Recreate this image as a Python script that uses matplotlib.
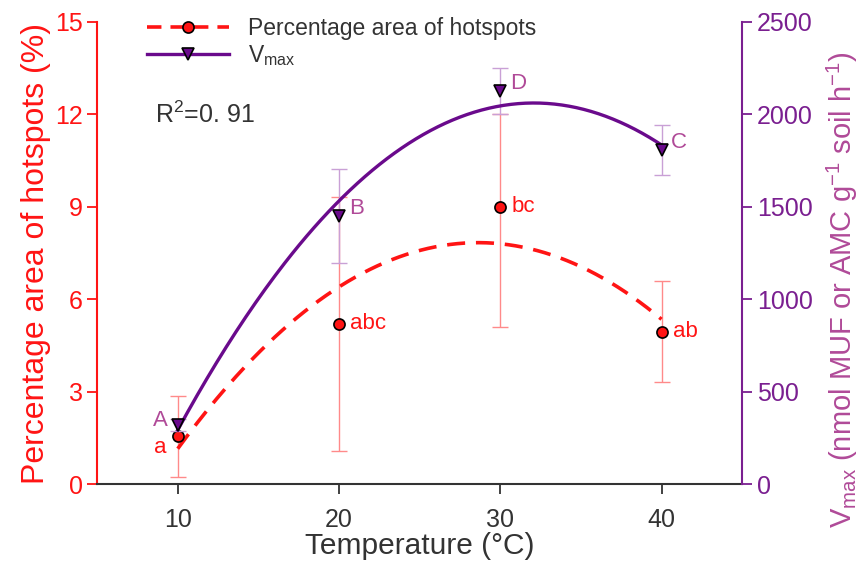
import numpy as np
import matplotlib.pyplot as plt
from matplotlib.lines import Line2D

plt.rcParams['font.family'] = ['Liberation Sans', 'DejaVu Sans']
plt.rcParams['mathtext.fontset'] = 'custom'
plt.rcParams['mathtext.rm'] = 'Liberation Sans'

# data
temps = [10, 20, 30, 40]
hot_mean = [1.55, 5.2, 9.0, 4.95]
hot_err_lo = [1.32, 4.13, 3.9, 1.64]
hot_err_hi = [1.32, 4.13, 3.0, 1.64]
hot_letters = ['a', 'abc', 'bc', 'ab']
vmax_mean = [320, 1450, 2127, 1807]
vmax_err = [32, 252, 125, 137]
vmax_letters = ['A', 'B', 'D', 'C']

red = '#ff1414'
purple = '#6a0a8c'
purple_tick = '#7a1f90'
purple_lab = '#b04a98'
grey = '#333333'

fig = plt.figure(figsize=(8.67, 5.75), dpi=100)
ax = fig.add_axes([0.112, 0.158, 0.744, 0.804])
ax2 = ax.twinx()

# quadratic fits of the means
xs = np.linspace(10, 40, 200)
p_hot = np.polyfit(temps, hot_mean, 2)
p_vmax = np.polyfit(temps, vmax_mean, 2)

ax.errorbar(temps, hot_mean, yerr=[hot_err_lo, hot_err_hi], fmt='none',
            ecolor='#ff8a8a', elinewidth=1, capsize=6, capthick=1, zorder=2)
ax.plot(xs, np.polyval(p_hot, xs), color=red, lw=2.6, ls=(0, (5, 3)), zorder=3)
ax.plot(temps, hot_mean, 'o', color=red, mec='black', mew=1.2, ms=8, zorder=5)

ax2.errorbar(temps, vmax_mean, yerr=vmax_err, fmt='none', ecolor='#c9a0d6',
             elinewidth=1, capsize=6, capthick=1, zorder=2)
ax2.plot(xs, np.polyval(p_vmax, xs), color=purple, lw=2.4, zorder=3)
ax2.plot(temps, vmax_mean, 'v', color=purple, mec='black', mew=1.2, ms=8, zorder=5)

# significance letters
for i, (x, y) in enumerate(zip(temps, hot_mean)):
    if i == 0:
        ax.text(x - 0.7, y - 0.35, hot_letters[i], color=red, fontsize=16,
                ha='right', va='center')
    else:
        ax.text(x + 0.7, y, hot_letters[i], color=red, fontsize=16,
                ha='left', va='center')
for i, (x, y) in enumerate(zip(temps, vmax_mean)):
    if i == 0:
        ax2.text(x - 0.6, y + 25, vmax_letters[i], color=purple_lab, fontsize=16,
                 ha='right', va='center')
    else:
        ax2.text(x + 0.6, y + 40, vmax_letters[i], color=purple_lab, fontsize=16,
                 ha='left', va='center')

ax.set_xlim(5, 45)
ax.set_ylim(0, 15)
ax2.set_ylim(0, 2500)
ax.set_xticks(temps)
ax.set_yticks([0, 3, 6, 9, 12, 15])
ax2.set_yticks([0, 500, 1000, 1500, 2000, 2500])

for a in (ax, ax2):
    a.spines['top'].set_visible(False)
ax.spines['right'].set_visible(False)
ax2.spines['left'].set_visible(False)
ax2.spines['bottom'].set_visible(False)
ax.spines['left'].set_color(red)
ax.spines['left'].set_linewidth(1.5)
ax.spines['bottom'].set_color(grey)
ax.spines['bottom'].set_linewidth(1.5)
ax2.spines['right'].set_color(purple_tick)
ax2.spines['right'].set_linewidth(1.5)

ax.tick_params(axis='y', colors=red, labelsize=18, length=7, width=1.3,
               direction='out')
ax.tick_params(axis='x', colors=grey, labelsize=18, length=7, width=1.3,
               direction='out', pad=10)
ax2.tick_params(axis='y', colors=purple_tick, labelsize=18, length=7, width=1.3,
                direction='out')

ax.set_xlabel('Temperature (°C)', fontsize=21.5, color=grey, labelpad=0)
ax.set_ylabel('Percentage area of hotspots (%)', fontsize=23, color=red,
              labelpad=3)
ax2.set_ylabel(r'V$_{\mathrm{max}}$ (nmol MUF or AMC g$^{-1}$ soil h$^{-1}$)',
               fontsize=21, color=purple_lab)
ax2.yaxis.set_label_coords(1.128, 0.42)

ax.text(0.09, 0.80, r'R$^{2}$=0. 91', transform=ax.transAxes, fontsize=18,
        color=grey, ha='left', va='center')

handles = [
    Line2D([], [], color=red, lw=2.6, ls=(0, (4, 2.5)), marker='o', ms=8,
           mfc=red, mec='black', mew=1.2),
    Line2D([], [], color=purple, lw=2.4, marker='v', ms=8, mfc=purple,
           mec='black', mew=1.2),
]
ax.legend(handles, ['Percentage area of hotspots', r'V$_{\mathrm{max}}$'],
          loc='upper left', bbox_to_anchor=(0.045, 1.055), frameon=False,
          fontsize=16.5, handlelength=3.6, handletextpad=0.8,
          labelspacing=0.15, labelcolor=grey)

fig.savefig('out.png', dpi=100)
